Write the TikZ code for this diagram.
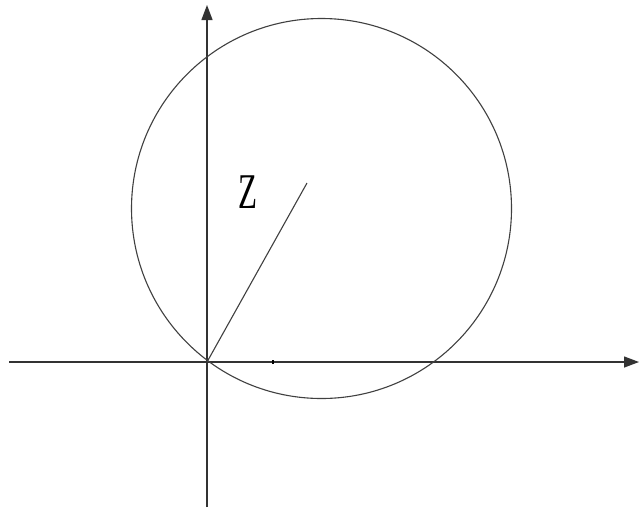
\documentclass[tikz,border=0pt]{standalone}
\usepackage{fontspec}
\setmainfont{Liberation Serif}
\usetikzlibrary{arrows.meta}
\begin{document}
\begin{tikzpicture}[x=1pt,y=-1pt,
  axis/.style={draw=black!80, line width=1.3pt, -{Triangle[length=15pt,width=11pt]}},
  curve/.style={draw=black!75, line width=1.1pt}]
\useasboundingbox[fill=white] (0,0) rectangle (639,509);
\coordinate (O) at (207,362);
\coordinate (xl) at (9,362);
\coordinate (xr) at (639,362);
\coordinate (yb) at (207,507);
\coordinate (yt) at (207,5);
\coordinate (C) at (321.5,208.5);
\coordinate (P) at (307,183);
\draw[axis] (xl) -- (xr);
\draw[axis] (yb) -- (yt);
\draw[curve] (C) circle[radius=190];
\draw[curve] (O) -- (P);
\coordinate (tk) at (273,362);
\draw[black, line width=1.3pt] ([yshift=-2pt]tk) -- ([yshift=2pt]tk);
\node[font=\fontsize{50}{50}\selectfont, xscale=0.62, inner sep=0pt, anchor=base] (Z) at (248,208) {Z};
\end{tikzpicture}
\end{document}
